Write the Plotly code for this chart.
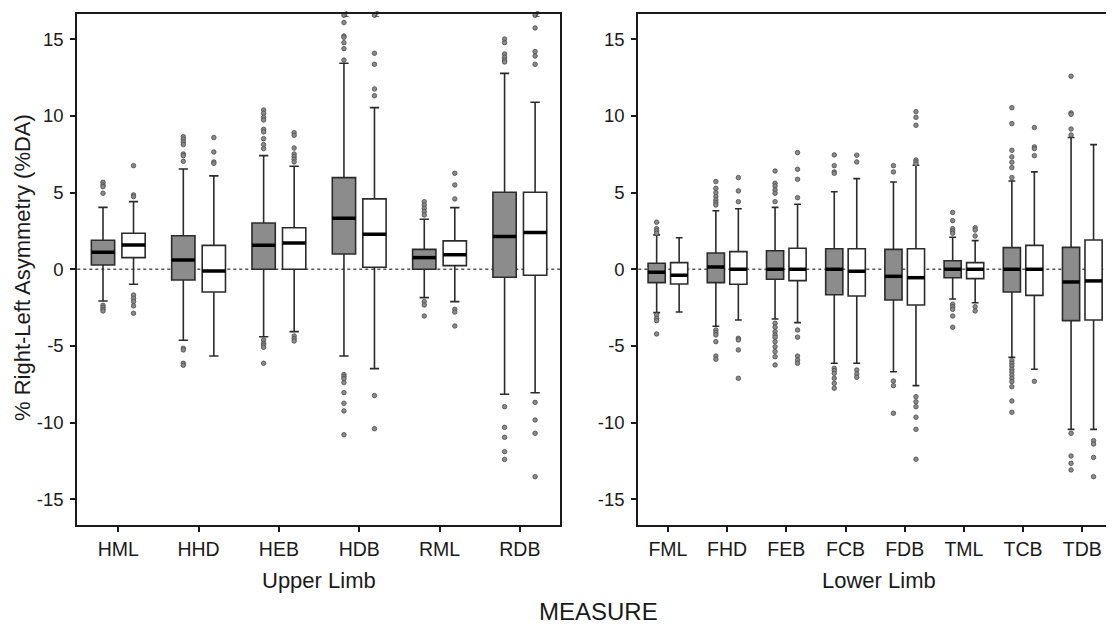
import plotly.graph_objects as go
from plotly.subplots import make_subplots

upper = ['HML', 'HHD', 'HEB', 'HDB', 'RML', 'RDB']
lower = ['FML', 'FHD', 'FEB', 'FCB', 'FDB', 'TML', 'TCB', 'TDB']

# upper limb, gray boxes
up_g_q1 = [0.28, -0.70, 0.0, 1.0, 0.0, -0.52]
up_g_med = [1.11, 0.61, 1.56, 3.33, 0.76, 2.13]
up_g_q3 = [1.89, 2.19, 3.02, 5.98, 1.30, 5.02]
up_g_lo = [-2.07, -4.63, -4.40, -5.66, -1.85, -8.15]
up_g_hi = [4.04, 6.54, 7.41, 13.44, 3.26, 12.78]
up_g_out = [
    [5.67, 5.5, 5.39, 4.96, -2.35, -2.48, -2.61, -2.72],
    [8.65, 8.48, 8.30, 8.13, 7.52, 7.41, 7.04, -5.15, -5.26, -6.13, -6.26],
    [10.39, 10.17, 9.91, 9.74, 9.13, 8.96, 8.52, 8.13, 7.87, -4.61, -4.83, -4.94, -5.09, -6.13],
    [16.57, 16.09, 15.22, 15.13, 14.78, 14.39, 13.65, -6.87, -7.0, -7.13, -7.39, -8.05, -8.74, -9.24, -10.79],
    [4.41, 4.19, 3.98, 3.76, 3.54, -2.11, -2.33, -3.05],
    [15.02, 14.78, 14.04, 13.83, 13.65, 13.52, -8.96, -10.31, -10.96, -11.9, -12.4],
]
up_g_flag = ['', '', '', '1', '', '']

# upper limb, white boxes
up_w_q1 = [0.76, -1.48, 0.0, 0.13, 0.24, -0.39]
up_w_med = [1.59, -0.11, 1.72, 2.28, 0.95, 2.39]
up_w_q3 = [2.35, 1.56, 2.71, 4.59, 1.85, 5.02]
up_w_lo = [-0.98, -5.66, -4.07, -6.48, -2.11, -8.05]
up_w_hi = [4.41, 6.09, 6.72, 10.54, 4.02, 10.89]
up_w_out = [
    [6.76, 4.85, 4.74, -1.68, -1.89, -2.11, -2.39, -2.87],
    [8.59, 7.65, 7.0, 6.91],
    [8.91, 8.74, 7.91, 7.52, 7.35, 7.18, 7.0, -4.35, -4.52, -4.68],
    [16.57, 14.09, 13.37, 11.76, 11.32, -8.24, -10.40],
    [6.26, 5.5, 4.59, -2.61, -2.79, -3.70],
    [16.57, 15.74, 14.2, 13.91, 13.37, -8.68, -9.83, -10.70, -13.53],
]
up_w_flag = ['', '', '', '2', '', '2']

# lower limb, gray boxes
lo_g_q1 = [-0.87, -0.87, -0.65, -1.66, -2.0, -0.55, -1.48, -3.35]
lo_g_med = [-0.2, 0.15, 0.0, 0.0, -0.46, 0.0, 0.0, -0.83]
lo_g_q3 = [0.39, 1.06, 1.21, 1.34, 1.30, 0.56, 1.41, 1.43]
lo_g_lo = [-2.83, -3.72, -3.24, -6.13, -6.68, -1.94, -5.75, -10.44]
lo_g_hi = [2.24, 3.82, 4.04, 5.06, 5.69, 2.09, 5.76, 8.59]
lo_g_out = [
    [3.07, 2.65, 2.5, 2.35, -2.98, -3.2, -3.35, -4.22],
    [5.72, 5.28, 5.0, 4.74, 4.52, 4.35, 4.19, -3.96, -4.13, -4.28, -4.72, -5.66, -5.87],
    [6.41, 5.61, 5.43, 5.17, 4.96, 4.41, -3.52, -3.78, -4.07, -4.28, -4.43, -4.72, -5.05, -5.37, -5.70, -6.24],
    [7.46, 6.76, 6.35, 6.26, -6.46, -6.61, -6.79, -7.11, -7.44, -7.76],
    [6.76, 6.35, -7.29, -7.59, -9.39],
    [3.71, 3.17, 2.65, 2.5, 2.35, -2.28, -2.44, -2.61, -3.05, -3.78],
    [10.54, 9.5, 7.76, 7.33, 6.98, 6.63, 5.98, -5.96, -6.13, -6.31, -6.52, -6.7, -6.9, -7.11, -7.33, -7.66, -8.59, -9.33],
    [12.59, 10.2, 10.11, 9.15, 8.76, -10.7, -12.18, -12.66, -13.09],
]

# lower limb, white boxes
lo_w_q1 = [-0.96, -0.98, -0.74, -1.74, -2.33, -0.61, -1.70, -3.31]
lo_w_med = [-0.39, 0.0, 0.0, -0.13, -0.55, 0.0, 0.0, -0.76]
lo_w_q3 = [0.43, 1.15, 1.37, 1.34, 1.34, 0.43, 1.56, 1.91]
lo_w_lo = [-2.79, -3.31, -3.48, -6.13, -7.59, -2.18, -6.52, -10.44]
lo_w_hi = [2.06, 3.95, 4.24, 5.91, 6.78, 1.87, 6.35, 8.13]
lo_w_out = [
    [],
    [5.98, 5.11, 4.41, -4.5, -4.61, -5.26, -7.11],
    [7.61, 6.52, 5.87, 4.67, -3.96, -4.43, -5.66, -5.92, -6.13],
    [7.44, 7.0, -6.57, -6.83, -7.05],
    [10.28, 9.91, 9.39, 7.13, 7.0, 6.87, -8.31, -8.64, -8.96, -9.65, -10.44, -12.39],
    [2.71, 2.56, 2.17, -2.44, -2.72],
    [9.24, 7.98, 7.87, 7.41, -7.31],
    [-11.18, -11.4, -12.27, -13.53],
]

yticks = [-15, -10, -5, 0, 5, 10, 15]

OFF = 0.19   # half distance between paired boxes
BW = 0.29    # box width
FONT = 'Liberation Sans, Arial, sans-serif'
INK = '#1a1a1a'

# page body has an 8px margin (and the view is clipped 8px early on the right):
# make the figure that much smaller and convert window pixels to paper coords
W, H, PAD = 1098, 618, 8


def px(x):
    return (x - PAD) / W


def py(y):
    return 1 - (y - PAD) / H


fig = make_subplots(rows=1, cols=2)


def add_group(col, n, q1, med, q3, lo, hi, out, side, fill, flags=None):
    xs = [i + side * OFF for i in range(n)]
    fig.add_trace(go.Box(x=xs, q1=q1, median=med, q3=q3, lowerfence=lo, upperfence=hi,
                         width=BW, fillcolor=fill, line=dict(color='#2b2b2b', width=1.6),
                         whiskerwidth=0.4, boxpoints=False, hoverinfo='skip',
                         showlegend=False), row=1, col=col)
    # thick median bars
    mx, my = [], []
    for x, m in zip(xs, med):
        mx += [x - BW / 2, x + BW / 2, None]
        my += [m, m, None]
    fig.add_trace(go.Scatter(x=mx, y=my, mode='lines', line=dict(color='black', width=3.5),
                             hoverinfo='skip', showlegend=False), row=1, col=col)
    # outliers
    ox, oy = [], []
    for x, pts in zip(xs, out):
        ox += [x] * len(pts)
        oy += pts
    fig.add_trace(go.Scatter(x=ox, y=oy, mode='markers',
                             marker=dict(size=4.5, color='#8a8a8a', line=dict(color='#4a4a4a', width=0.8)),
                             hoverinfo='skip', showlegend=False), row=1, col=col)
    if flags:
        fx, fy, ft = [], [], []
        for x, pts, f in zip(xs, out, flags):
            if f:
                fx.append(x)
                fy.append(max(pts))
                ft.append(f)
        fig.add_trace(go.Scatter(x=fx, y=fy, mode='text', text=ft, textposition='middle right',
                                 textfont=dict(size=9, color='#444', family=FONT), cliponaxis=False,
                                 hoverinfo='skip', showlegend=False), row=1, col=col)


add_group(1, len(upper), up_g_q1, up_g_med, up_g_q3, up_g_lo, up_g_hi, up_g_out, -1, '#8c8c8c', up_g_flag)
add_group(1, len(upper), up_w_q1, up_w_med, up_w_q3, up_w_lo, up_w_hi, up_w_out, 1, 'white', up_w_flag)
add_group(2, len(lower), lo_g_q1, lo_g_med, lo_g_q3, lo_g_lo, lo_g_hi, lo_g_out, -1, '#8c8c8c')
add_group(2, len(lower), lo_w_q1, lo_w_med, lo_w_q3, lo_w_lo, lo_w_hi, lo_w_out, 1, 'white')

# dotted zero reference lines
for xr, yr in [('x', 'y'), ('x2', 'y2')]:
    fig.add_shape(type='line', xref=xr + ' domain', yref=yr, x0=0, x1=1, y0=0, y1=0,
                  line=dict(color='#555', width=1.5, dash='dot'), layer='below')

axis_common = dict(showline=True, linecolor=INK, linewidth=2, ticks='outside', ticklen=5,
                   tickwidth=2, tickcolor=INK, showgrid=False, zeroline=False,
                   tickfont=dict(family=FONT, size=18.5, color=INK))

fig.update_xaxes(**axis_common)
fig.update_yaxes(ticklabelstandoff=3, **axis_common)

title_font = dict(size=22, family=FONT, color=INK)
ydom = [py(525.3), py(14)]

fig.update_layout(
    width=W, height=H,
    plot_bgcolor='white', paper_bgcolor='white',
    margin=dict(l=0, r=0, t=0, b=0),
    font=dict(family=FONT, color=INK),
    xaxis=dict(domain=[px(77.3), px(560)], range=[-0.51, 5.5], mirror=True,
               tickvals=list(range(len(upper))), ticktext=upper, tickfont=dict(size=19.5)),
    xaxis2=dict(domain=[px(638.3), 1.0], range=[-0.5, 7.4], mirror=True,
                tickvals=list(range(len(lower))), ticktext=lower, tickfont=dict(size=19.5)),
    yaxis=dict(domain=ydom, range=[-16.7, 16.65], mirror=True,
               tickvals=yticks, ticktext=[str(v) for v in yticks]),
    yaxis2=dict(domain=ydom, range=[-16.7, 16.65], mirror=False,
                tickvals=yticks, ticktext=[str(v) for v in yticks]),
    annotations=[
        dict(text='Upper Limb', x=px(318.5), y=py(580.7), xref='paper', yref='paper', showarrow=False,
             xanchor='center', yanchor='middle', font=title_font),
        dict(text='Lower Limb', x=px(879), y=py(580.7), xref='paper', yref='paper', showarrow=False,
             xanchor='center', yanchor='middle', font=title_font),
        dict(text='MEASURE', x=px(598), y=py(611.7), xref='paper', yref='paper', showarrow=False,
             xanchor='center', yanchor='middle', font=dict(size=24, family=FONT, color=INK)),
        dict(text='% Right-Left Asymmetry (%DA)', x=px(22), y=py(268), xref='paper', yref='paper',
             xanchor='center', yanchor='middle', showarrow=False, textangle=-90, font=title_font),
    ],
)

fig.write_html("out.html")
